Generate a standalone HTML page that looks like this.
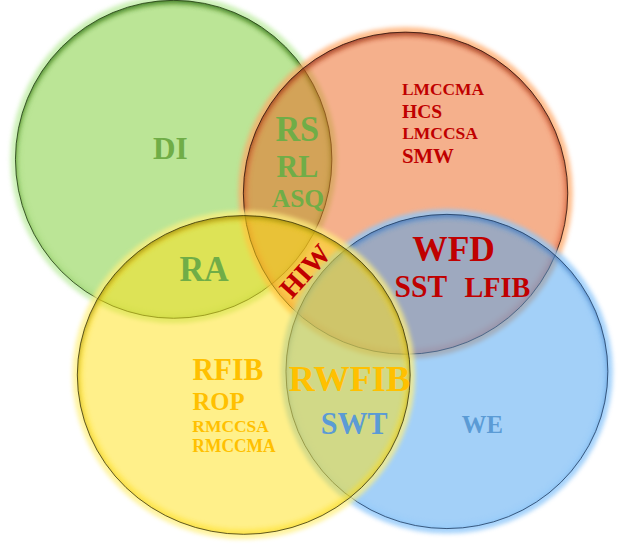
<!DOCTYPE html>
<html><head><meta charset="utf-8"><style>
html,body{margin:0;padding:0;background:#fff;width:629px;height:552px;overflow:hidden}
svg{display:block}
text{font-family:"Liberation Serif",serif;font-weight:bold}
</style></head><body>
<svg width="629" height="552" viewBox="0 0 629 552">
<defs><filter id="blurG" x="-20%" y="-20%" width="140%" height="140%"><feGaussianBlur stdDeviation="2.3"/></filter><filter id="blurS" x="-20%" y="-20%" width="140%" height="140%"><feGaussianBlur stdDeviation="2.5"/></filter><mask id="outg" maskUnits="userSpaceOnUse" x="0" y="0" width="629" height="552"><rect x="0" y="0" width="629" height="552" fill="#fff"/><ellipse cx="173.66" cy="159.31" rx="158.22" ry="158.97" fill="#000"/></mask><clipPath id="ing"><ellipse cx="173.66" cy="159.31" rx="158.22" ry="158.97"/></clipPath><mask id="outo" maskUnits="userSpaceOnUse" x="0" y="0" width="629" height="552"><rect x="0" y="0" width="629" height="552" fill="#fff"/><ellipse cx="405.55" cy="193.18" rx="162.2" ry="161.07" fill="#000"/></mask><clipPath id="ino"><ellipse cx="405.55" cy="193.18" rx="162.2" ry="161.07"/></clipPath><mask id="outb" maskUnits="userSpaceOnUse" x="0" y="0" width="629" height="552"><rect x="0" y="0" width="629" height="552" fill="#fff"/><ellipse cx="446.91" cy="371.46" rx="160.96" ry="157.11" fill="#000"/></mask><clipPath id="inb"><ellipse cx="446.91" cy="371.46" rx="160.96" ry="157.11"/></clipPath><mask id="outy" maskUnits="userSpaceOnUse" x="0" y="0" width="629" height="552"><rect x="0" y="0" width="629" height="552" fill="#fff"/><ellipse cx="243.75" cy="374.94" rx="166.43" ry="159.37" fill="#000"/></mask><clipPath id="iny"><ellipse cx="243.75" cy="374.94" rx="166.43" ry="159.37"/></clipPath></defs>
<g>
<ellipse cx="173.66" cy="159.31" rx="158.22" ry="158.97" fill="none" stroke="#b0e890" stroke-width="10" opacity="0.65" filter="url(#blurG)" mask="url(#outg)"/>
<ellipse cx="173.66" cy="159.31" rx="158.22" ry="158.97" fill="rgb(119,203,45)" fill-opacity="0.5"/>
<g clip-path="url(#ing)">
<ellipse cx="173.66" cy="159.31" rx="158.22" ry="158.97" fill="none" stroke="#90d060" stroke-width="10" opacity="0.2" filter="url(#blurG)"/>
<ellipse cx="173.66" cy="162.31" rx="164.22" ry="164.97" fill="none" stroke="#2c6a10" stroke-width="12" opacity="0.8" filter="url(#blurS)"/>
</g>
<ellipse cx="173.66" cy="159.31" rx="158.22" ry="158.97" fill="none" stroke="#1f3a10" stroke-width="1" opacity="0.8"/>
</g>
<g>
<ellipse cx="405.55" cy="193.18" rx="162.2" ry="161.07" fill="none" stroke="#ffa868" stroke-width="10" opacity="0.75" filter="url(#blurG)" mask="url(#outo)"/>
<ellipse cx="405.55" cy="193.18" rx="162.2" ry="161.07" fill="rgb(235,97,25)" fill-opacity="0.5"/>
<g clip-path="url(#ino)">
<ellipse cx="405.55" cy="193.18" rx="162.2" ry="161.07" fill="none" stroke="#f06038" stroke-width="10" opacity="0.3" filter="url(#blurG)"/>
<ellipse cx="405.55" cy="196.18" rx="168.2" ry="167.07" fill="none" stroke="#802810" stroke-width="12" opacity="0.7" filter="url(#blurS)"/>
</g>
<ellipse cx="405.55" cy="193.18" rx="162.2" ry="161.07" fill="none" stroke="#2a0e06" stroke-width="1" opacity="0.8"/>
</g>
<g>
<ellipse cx="446.91" cy="371.46" rx="160.96" ry="157.11" fill="none" stroke="#90c8fa" stroke-width="10" opacity="0.8" filter="url(#blurG)" mask="url(#outb)"/>
<ellipse cx="446.91" cy="371.46" rx="160.96" ry="157.11" fill="rgb(71,161,241)" fill-opacity="0.5"/>
<g clip-path="url(#inb)">
<ellipse cx="446.91" cy="371.46" rx="160.96" ry="157.11" fill="none" stroke="#88c8ff" stroke-width="10" opacity="0.25" filter="url(#blurG)"/>
<ellipse cx="446.91" cy="374.46" rx="166.96" ry="163.11" fill="none" stroke="#2a64b0" stroke-width="12" opacity="0.6" filter="url(#blurS)"/>
</g>
<ellipse cx="446.91" cy="371.46" rx="160.96" ry="157.11" fill="none" stroke="#1a3a60" stroke-width="1" opacity="0.8"/>
</g>
<g>
<ellipse cx="243.75" cy="374.94" rx="166.43" ry="159.37" fill="none" stroke="#fff080" stroke-width="10" opacity="0.75" filter="url(#blurG)" mask="url(#outy)"/>
<ellipse cx="243.75" cy="374.94" rx="166.43" ry="159.37" fill="rgb(255,225,21)" fill-opacity="0.5"/>
<g clip-path="url(#iny)">
<ellipse cx="243.75" cy="374.94" rx="166.43" ry="159.37" fill="none" stroke="#ffe020" stroke-width="10" opacity="0.5" filter="url(#blurG)"/>
<ellipse cx="243.75" cy="377.94" rx="172.43" ry="165.37" fill="none" stroke="#706000" stroke-width="12" opacity="0.55" filter="url(#blurS)"/>
</g>
<ellipse cx="243.75" cy="374.94" rx="166.43" ry="159.37" fill="none" stroke="#3a3408" stroke-width="1" opacity="0.8"/>
</g>
<text x="0" y="0" font-size="31" fill="#70ad47" transform="matrix(1.0061 0 0 0.9926 153.10 159.00)">DI</text>
<text x="0" y="0" font-size="36" fill="#70ad47" transform="matrix(0.9500 0 0 1.0042 275.42 140.75)">RS</text>
<text x="0" y="0" font-size="31" fill="#70ad47" transform="matrix(0.9697 0 0 0.9975 276.52 176.90)">RL</text>
<text x="0" y="0" font-size="26" fill="#70ad47" transform="matrix(0.9788 0 0 0.9767 271.76 206.85)">ASQ</text>
<text x="0" y="0" font-size="36" fill="#70ad47" transform="matrix(0.9483 0 0 1.0063 179.43 280.80)">RA</text>
<text x="0" y="0" font-size="17.6" fill="#c00000" transform="matrix(0.9885 0 0 0.9787 401.95 95.26)">LMCCMA</text>
<text x="0" y="0" font-size="19" fill="#c00000" transform="matrix(1.0289 0 0 0.9569 401.94 117.86)">HCS</text>
<text x="0" y="0" font-size="17.6" fill="#c00000" transform="matrix(0.9947 0 0 0.9957 402.15 138.65)">LMCCSA</text>
<text x="0" y="0" font-size="20.5" fill="#c00000" transform="matrix(1.0160 0 0 1.0400 401.88 162.64)">SMW</text>
<text x="0" y="0" font-size="36" fill="#c00000" transform="matrix(0.9847 0 0 1.0208 412.21 260.59)">WFD</text>
<text x="0" y="0" font-size="30" fill="#c00000" transform="matrix(0.9845 0 0 1.0200 394.62 297.05)">SST</text>
<text x="0" y="0" font-size="29" fill="#c00000" transform="matrix(0.9721 0 0 1.0105 464.51 296.90)">LFIB</text>
<text x="0" y="0" font-size="30" fill="#ffc000" transform="matrix(0.9879 0 0 1.0256 192.41 379.90)">RFIB</text>
<text x="0" y="0" font-size="25" fill="#ffc000" transform="matrix(0.9864 0 0 1.0209 192.41 409.64)">ROP</text>
<text x="0" y="0" font-size="17.5" fill="#ffc000" transform="matrix(0.9974 0 0 1.0043 192.35 431.55)">RMCCSA</text>
<text x="0" y="0" font-size="17.5" fill="#ffc000" transform="matrix(0.9970 0 0 1.0553 192.35 451.54)">RMCCMA</text>
<text x="0" y="0" font-size="35.5" fill="#ffc000" transform="matrix(1.0196 0 0 1.0021 288.69 390.50)">RWFIB</text>
<text x="0" y="0" font-size="29.5" fill="#5b9bd5" transform="matrix(1.0212 0 0 1.0550 320.67 433.87)">SWT</text>
<text x="0" y="0" font-size="25" fill="#5b9bd5" transform="matrix(0.9863 0 0 1.0121 461.75 433.35)">WE</text>
<text x="0" y="0" font-size="28" fill="#c00000" transform="translate(291.85,299.8) rotate(-48)">HIW</text>
</svg></body></html>
